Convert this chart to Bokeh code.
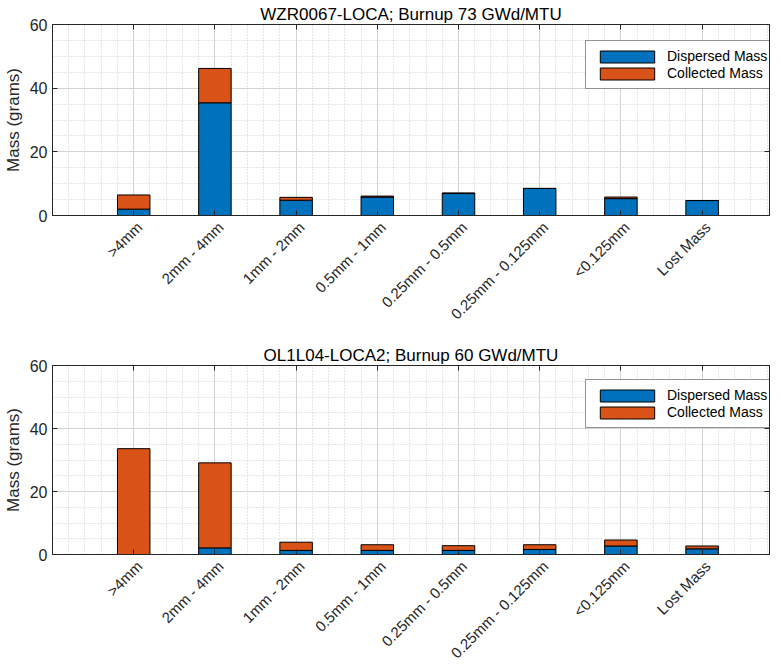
import numpy as np
from bokeh.plotting import figure
from bokeh.models import (ColumnDataSource, FixedTicker, LinearAxis, Range1d, Legend)
from bokeh.layouts import column
from bokeh.embed import file_html
from bokeh.resources import INLINE

categories = [">4mm", "2mm - 4mm", "1mm - 2mm", "0.5mm - 1mm", "0.25mm - 0.5mm",
              "0.25mm - 0.125mm", "<0.125mm", "Lost Mass"]
dispersed_a = [2.0, 35.4, 4.8, 5.8, 6.9, 8.5, 5.3, 4.7]
collected_a = [4.45, 10.8, 0.9, 0.3, 0.2, 0.0, 0.5, 0.0]
dispersed_b = [0.0, 2.1, 1.3, 1.3, 1.3, 1.6, 2.7, 1.8]
collected_b = [33.6, 27.0, 2.6, 1.8, 1.5, 1.5, 1.9, 0.9]
titles = ["WZR0067-LOCA; Burnup 73 GWd/MTU", "OL1L04-LOCA2; Burnup 60 GWd/MTU"]
y_ticks = [0, 20, 40, 60]

BLUE = "#0072BD"
ORANGE = "#D95319"
AX = "#262626"
FONT = "Liberation Sans"


def make(title, disp, coll, top_border, bottom_border, height):
    xs = list(range(1, len(categories) + 1))
    src = ColumnDataSource(dict(x=xs, dispersed=disp, collected=coll))
    p = figure(width=775, height=height, output_backend="svg", toolbar_location=None,
               x_range=Range1d(0, 8.83), y_range=Range1d(0, 60),
               min_border_left=41, min_border_right=6,
               min_border_top=top_border, min_border_bottom=bottom_border)
    p.extra_x_ranges = {"lab": Range1d(-0.07, 8.76)}
    p.title.text = title
    p.title.align = "center"
    p.title.text_font = FONT
    p.title.text_font_size = "17px"
    p.title.text_font_style = "normal"
    p.title.text_color = "#000000"
    p.title.offset = 0
    p.title.standoff = 2

    r = p.vbar_stack(["dispersed", "collected"], x="x", width=0.4, source=src,
                     color=[BLUE, ORANGE], line_color="black", line_width=1)

    p.outline_line_color = AX
    p.outline_line_width = 1
    p.background_fill_color = "white"

    xt = FixedTicker(ticks=xs, minor_ticks=list(np.round(np.arange(0, 8.9, 0.2), 2)))
    yt = FixedTicker(ticks=y_ticks, minor_ticks=list(range(0, 61, 5)))
    p.xaxis.ticker = xt
    p.yaxis.ticker = yt
    p.xaxis.major_label_overrides = {i: "" for i in xs}
    p.xaxis.major_label_standoff = 0
    for ax in [p.xaxis[0], p.yaxis[0]]:
        ax.major_tick_in = 5
        ax.major_tick_out = 0
        ax.minor_tick_in = 0
        ax.minor_tick_out = 0
        ax.axis_line_color = AX
        ax.major_tick_line_color = AX
        ax.major_label_text_font = FONT
        ax.major_label_text_color = AX
    p.yaxis.major_label_text_font_size = "16px"
    p.yaxis.axis_label = "Mass (grams)"
    p.yaxis.axis_label_text_font = FONT
    p.yaxis.axis_label_text_font_size = "17px"
    p.yaxis.axis_label_text_font_style = "normal"
    p.yaxis.axis_label_text_color = AX
    p.yaxis.axis_label_standoff = 4

    lab_axis = LinearAxis(x_range_name="lab", ticker=FixedTicker(ticks=xs),
                          major_tick_in=0, major_tick_out=0, minor_tick_in=0,
                          minor_tick_out=0, axis_line_color=None,
                          major_label_orientation=np.pi / 4,
                          major_label_standoff=9,
                          major_label_text_font=FONT, major_label_text_font_size="15px",
                          major_label_text_color=AX)
    lab_axis.major_label_overrides = {i + 1: c for i, c in enumerate(categories)}
    p.add_layout(lab_axis, "below")

    for loc, ticker, vals in [("above", xt, xs), ("right", yt, y_ticks)]:
        ax = LinearAxis(ticker=ticker, major_tick_in=5, major_tick_out=0, minor_tick_in=0,
                        minor_tick_out=0, axis_line_color=AX,
                        major_tick_line_color=AX, major_label_standoff=0)
        ax.major_label_overrides = {v: "" for v in vals}
        p.add_layout(ax, loc)

    for g in [p.xgrid[0], p.ygrid[0]]:
        g.grid_line_color = "#d4d4d4"
        g.grid_line_width = 1
        g.minor_grid_line_color = "#cccccc"
        g.minor_grid_line_dash = "1 2"
        g.minor_grid_line_width = 1

    legend = Legend(items=[("Dispersed Mass", [r[0]]), ("Collected Mass", [r[1]])],
                    location=(533, 126))
    legend.glyph_width = 68
    legend.glyph_height = 15
    legend.label_width = 102
    legend.label_text_font = FONT
    legend.label_text_font_size = "14px"
    legend.label_text_color = "#000000"
    legend.spacing = 1
    legend.padding = 7
    legend.margin = 0
    legend.border_line_color = AX
    legend.border_line_width = 1
    legend.label_standoff = 6
    p.add_layout(legend, "center")
    return p


p1 = make(titles[0], dispersed_a, collected_a, 24, 118, 333)
p2 = make(titles[1], dispersed_b, collected_b, 32, 104, 337)
layout = column(p1, p2, spacing=0)

open("out.html", "w").write(file_html(layout, INLINE))
